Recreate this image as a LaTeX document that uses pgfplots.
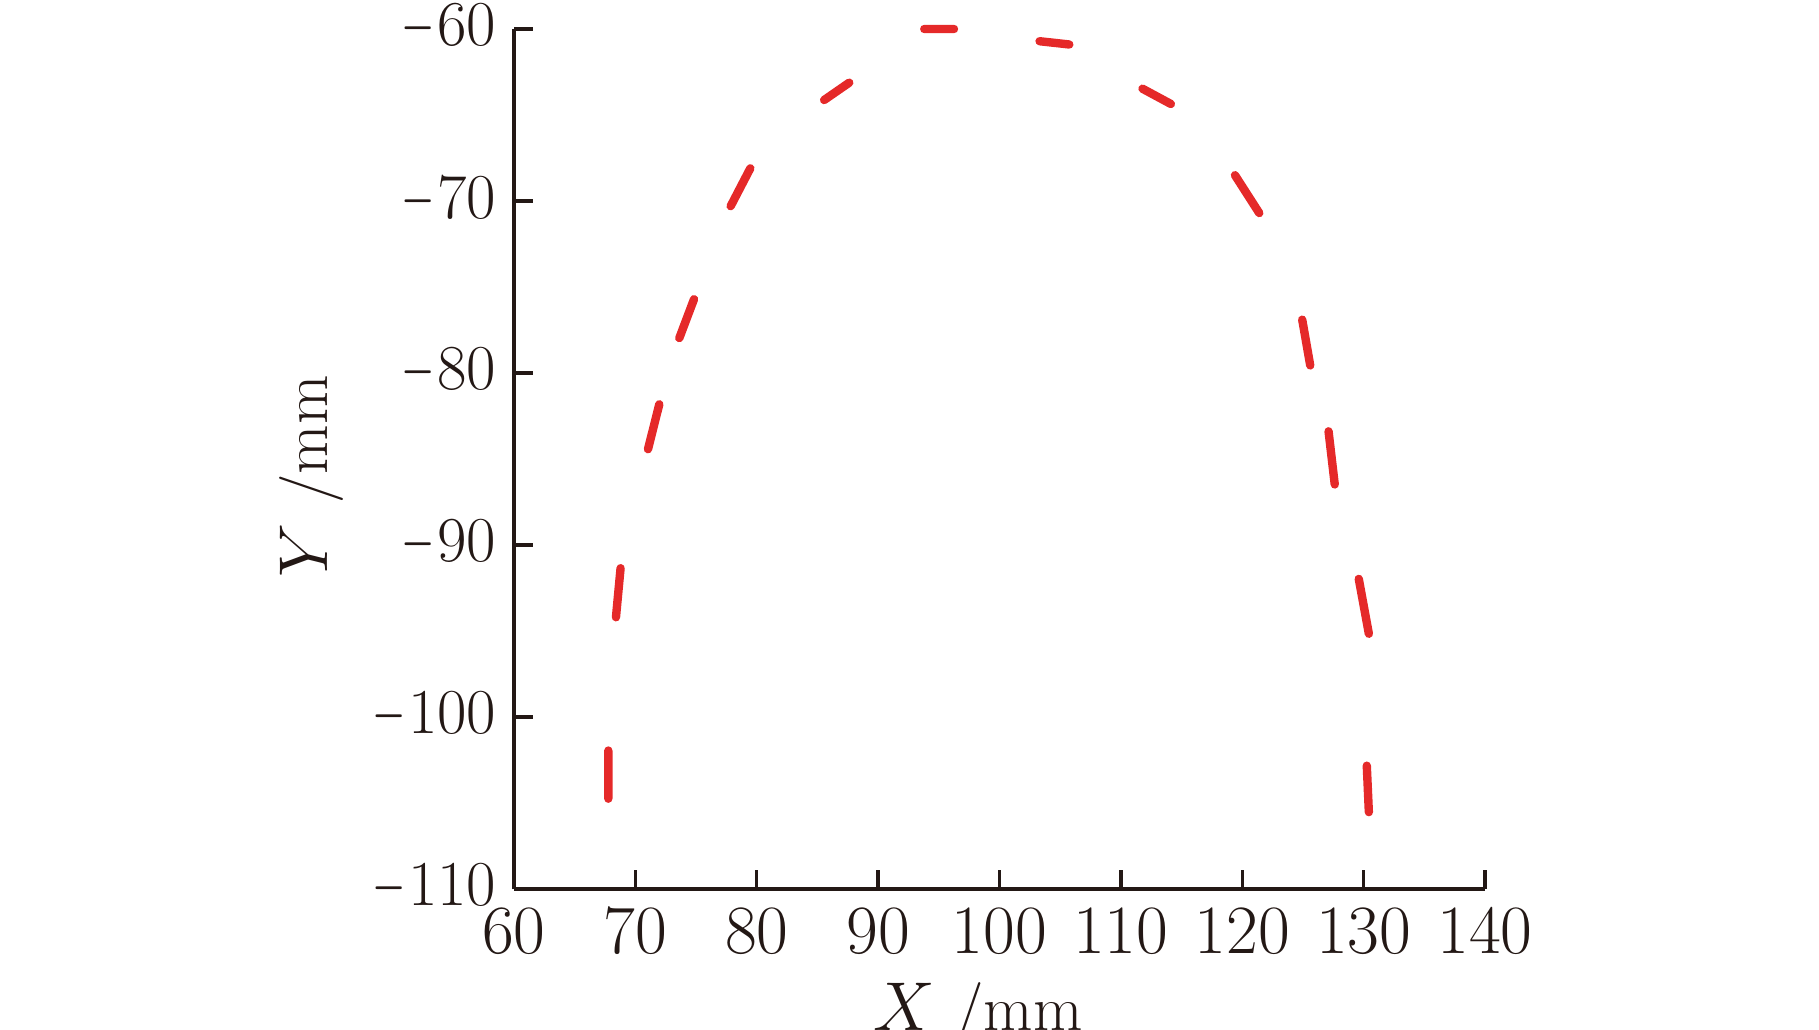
\documentclass[border=0pt]{standalone}
\usepackage{graphicx}
\usepackage{pgfplots}
\pgfplotsset{compat=1.18}
\definecolor{curvered}{RGB}{229,41,41}
\definecolor{axisblack}{RGB}{35,24,21}
\newcommand{\shortminus}{\scalebox{0.62}[1]{$-$}\kern0.6pt}
\begin{document}
\begin{tikzpicture}
\useasboundingbox (0,0) rectangle (454.75pt,257.25pt);
\begin{axis}[
  at={(128.5pt,35pt)}, anchor=south west,
  scale only axis, width=242.75pt, height=215pt,
  xmin=60, xmax=140, ymin=-110, ymax=-60,
  xtick={60,70,...,140}, ytick={-110,-100,...,-60},
  yticklabels={{\shortminus110},{\shortminus100},{\shortminus90},{\shortminus80},{\shortminus70},{\shortminus60}},
  axis x line=bottom, axis y line=left,
  axis line style={-, line width=0.85pt, color=axisblack},
  tick align=inside,
  major tick length=4.75pt,
  every tick/.style={axisblack, line width=0.85pt},
  tick label style={font=\fontsize{16}{19}\selectfont, text=axisblack, inner sep=0pt},
  xticklabel style={anchor=north, yshift=-4.75pt},
  yticklabel style={anchor=east, xshift=-4.25pt, yshift=0.4pt},
  label style={font=\fontsize{16}{19}\selectfont, text=axisblack},
  xlabel={$X$ /mm}, ylabel={$Y$ /mm},
  xlabel style={at={(axis description cs:0.478,-0.164)}, anchor=base},
  ylabel style={at={(axis description cs:-0.209,0.48)}, anchor=center},
  clip=false,
  unbounded coords=jump,
]
\addplot[curvered, line width=2.1pt, line cap=round, no marks] coordinates {
(67.77,-101.95) (67.77,-104.75) (nan,nan)
(68.78,-91.35) (68.40,-94.20) (nan,nan)
(71.97,-81.82) (71.04,-84.43) (nan,nan)
(74.83,-75.71) (73.62,-77.97) (nan,nan)
(79.47,-68.10) (77.85,-70.30) (nan,nan)
(85.55,-64.13) (87.62,-63.12) (nan,nan)
(93.80,-60.00) (96.25,-60.00) (nan,nan)
(103.30,-60.71) (105.75,-60.90) (nan,nan)
(111.78,-63.47) (114.12,-64.36) (nan,nan)
(119.40,-68.50) (121.40,-70.70) (nan,nan)
(124.94,-76.90) (125.60,-79.56) (nan,nan)
(127.11,-83.39) (127.62,-86.48) (nan,nan)
(129.60,-91.97) (130.43,-95.16) (nan,nan)
(130.26,-102.83) (130.43,-105.53)
};
\end{axis}
\end{tikzpicture}
\end{document}
